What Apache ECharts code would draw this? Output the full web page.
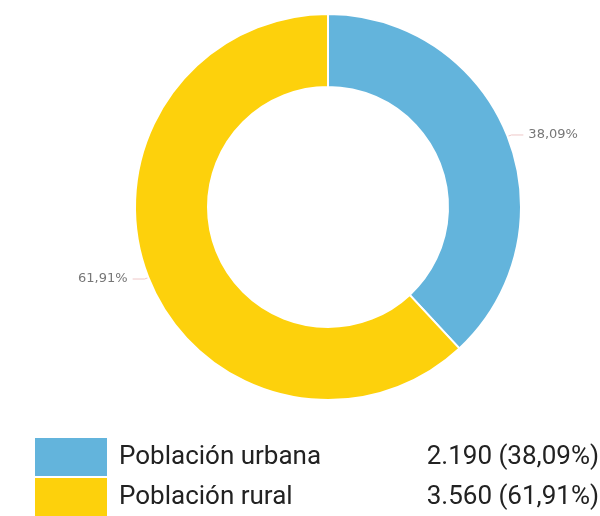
<!DOCTYPE html>
<html>
<head>
<meta charset="utf-8">
<script src="https://cdn.jsdelivr.net/npm/echarts@6/dist/echarts.min.js"></script>
<style>
  html, body { margin: 0; padding: 0; background: #fff; }
  #pie { width: 600px; height: 516px; }
</style>
</head>
<body>
<div id="pie"></div>
<script>
// datos de población
var categories = ['Población urbana', 'Población rural'];
var values = [2190, 3560];
var colors = ['#63b4dc', '#fdd10c'];

var fmtNum = function (v) {
  return String(v).replace(/\B(?=(\d{3})+(?!\d))/g, '.');
};
var total = values.reduce(function (a, b) { return a + b; }, 0);
var pct = function (v) {
  return (v / total * 100).toFixed(2).replace('.', ',') + '%';
};

// one legend per row so the bottom row isn't wrapped into a new column
var makeLegend = function (i) {
  return {
    orient: 'vertical',
    left: 28,
    top: 431 + i * 40,
    icon: 'rect',
    itemWidth: 74,
    itemHeight: 40,
    itemGap: 0,
    selectedMode: false,
    data: [categories[i]],
    formatter: function (name) {
      var k = categories.indexOf(name);
      return '{n|' + name + '}{v|' + fmtNum(values[k]) + ' (' + pct(values[k]) + ')}';
    },
    textStyle: {
      rich: {
        n: {
          fontFamily: 'Roboto',
          fontSize: 26,
          color: '#222',
          width: 300,
          padding: [0, 0, 0, 6]
        },
        v: {
          fontFamily: 'Roboto',
          fontSize: 26,
          color: '#222',
          width: 180,
          align: 'right'
        }
      }
    }
  };
};

var chart = echarts.init(document.getElementById('pie'));
chart.setOption({
  animation: false,
  color: colors,
  legend: [makeLegend(0), makeLegend(1)],
  series: [
    {
      type: 'pie',
      center: [328, 207],
      radius: [120, 193],
      startAngle: 90,
      clockwise: true,
      itemStyle: {
        borderColor: '#fff',
        borderWidth: 2
      },
      label: {
        show: true,
        fontFamily: 'DejaVu Sans',
        fontSize: 13,
        color: '#777',
        formatter: function (p) {
          return pct(p.value);
        }
      },
      labelLine: {
        length: 4,
        length2: 12,
        lineStyle: { color: '#efc8c8', width: 1 }
      },
      emphasis: { disabled: true },
      data: categories.map(function (c, i) {
        return { name: c, value: values[i] };
      })
    }
  ]
});
</script>
</body>
</html>
